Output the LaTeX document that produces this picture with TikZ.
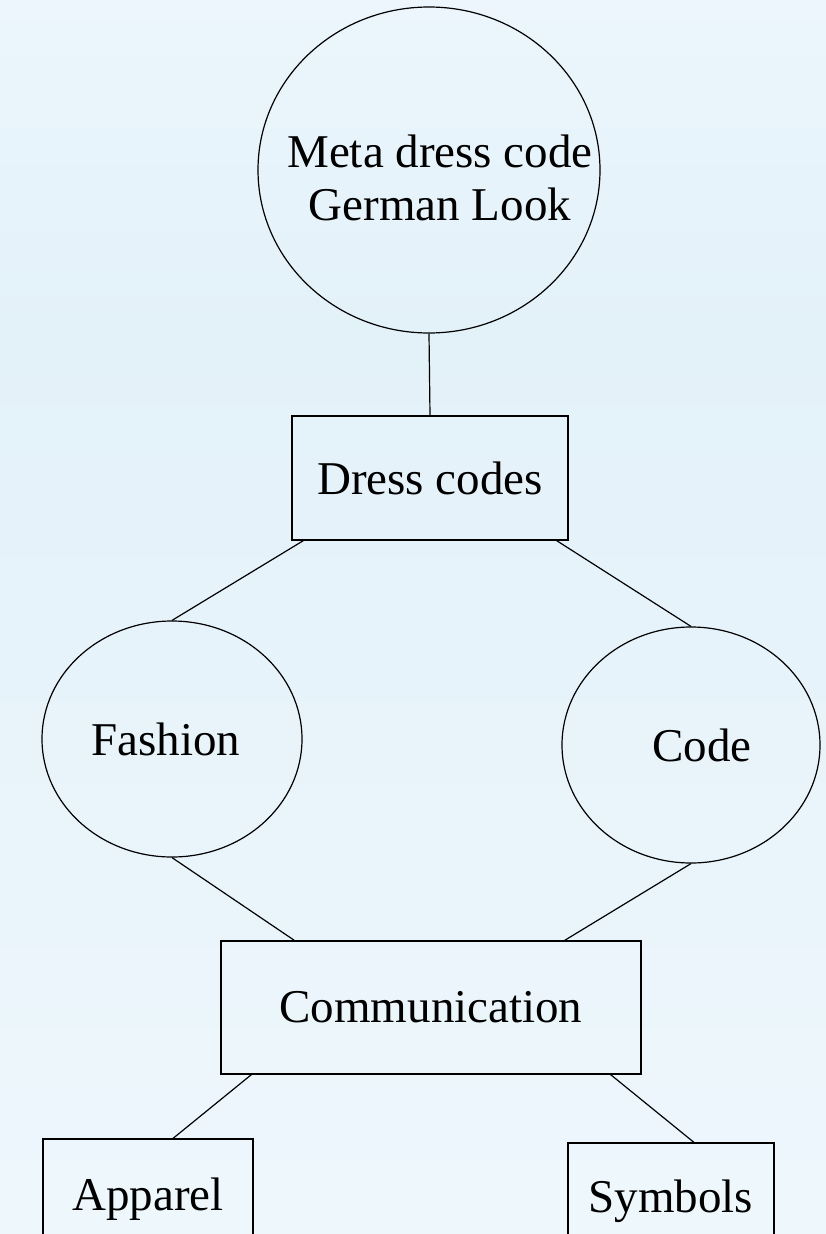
\documentclass[tikz,border=0pt]{standalone}
\usepackage{fontspec}
\setmainfont{Liberation Serif}
\usetikzlibrary{shapes.geometric,calc}
\definecolor{bgtop}{HTML}{ECF6FC}
\definecolor{bgmid}{HTML}{E3F1F9}
\definecolor{bgbot}{HTML}{EEF7FC}
\begin{document}
\begin{tikzpicture}[x=1pt,y=-1pt,
  shapeline/.style={draw=black,line width=1.2pt},
  ell/.style={shapeline,ellipse,inner sep=-60pt,font=\fontsize{47}{53}\selectfont,align=center},
  rectbox/.style={shapeline,rectangle,inner sep=0pt,font=\fontsize{47}{53}\selectfont,align=center},
  link/.style={draw=black,line width=1.2pt}]
\useasboundingbox (0,0) rectangle (826,1234);
\shade[top color=bgtop,bottom color=bgmid] (0,0) rectangle (826,330);
\shade[top color=bgmid,bottom color=bgbot] (0,330) rectangle (826,1234);
% nodes
\node[ell,minimum width=342pt,minimum height=326pt] (meta) at (429,170) {\mbox{}\\[-5pt]\hspace*{22pt}Meta dress code\\\hspace*{22pt}German Look};
\node[rectbox,minimum width=276pt,minimum height=124pt] (dress) at (430,478) {Dress codes};
\node[ell,minimum width=260pt,minimum height=236pt] (fashion) at (172,739) {Fashion\hspace*{12pt}};
\node[ell,minimum width=258pt,minimum height=236pt] (code) at (691,745) {\hspace*{22pt}Code};
\node[rectbox,minimum width=420pt,minimum height=133pt] (comm) at (431,1007.5) {Communication};
\node[rectbox,minimum width=210pt,minimum height=121pt] (apparel) at (148,1199.5) {Apparel};
\node[rectbox,minimum width=206pt,minimum height=117pt] (symbols) at (671,1201.5) {Symbols};
% connectors
\draw[link] (meta.south) -- (dress.north);
\draw[link] ($(dress.south west)+(12,0)$) -- (fashion.north);
\draw[link] ($(dress.south east)+(-12,0)$) -- (code.north);
\draw[link] (fashion.south) -- ($(comm.north west)+(74,0)$);
\draw[link] (code.south) -- ($(comm.north east)+(-77,0)$);
\draw[link] ($(comm.south west)+(31,0)$) -- ($(apparel.north)+(25,0)$);
\draw[link] ($(comm.south east)+(-31,0)$) -- ($(symbols.north)+(23,0)$);
\end{tikzpicture}
\end{document}
